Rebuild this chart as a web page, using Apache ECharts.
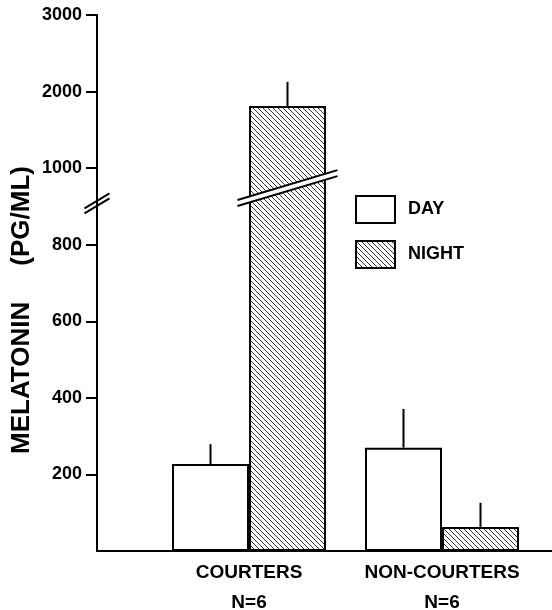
<!DOCTYPE html>
<html>
<head>
<meta charset="utf-8">
<script src="https://cdn.jsdelivr.net/npm/echarts@6/dist/echarts.min.js"></script>
<style>html,body{margin:0;padding:0;background:#fff}#c{width:552px;height:610px}</style>
</head>
<body>
<div id="c"></div>
<script>
// ---- data ----
const categories = ['COURTERS', 'NON-COURTERS'];
const groupN = ['N=6', 'N=6'];
const dayMean = [227, 270];
const dayErr = [52, 101];
const nightMean = [1810, 63];
const nightErr = [317, 63];
const tickLabels = ['', '200', '400', '600', '800', '1000', '2000', '3000'];
const seriesNames = ['DAY', 'NIGHT'];

// broken axis: 0-800 step 200 per unit, 1000-3000 step 1000 per unit
function toAxis(v) { return v <= 900 ? v / 200 : 5 + (v - 1000) / 1000; }

const FONT = "'Liberation Sans', Arial, Helvetica, sans-serif";
const BAR_W = 77;

// hatch pattern
const pc = document.createElement('canvas');
pc.width = 5; pc.height = 5;
const g = pc.getContext('2d');
g.fillStyle = '#fff'; g.fillRect(0, 0, 5, 5);
g.fillStyle = '#333';
for (let i = 0; i < 5; i++) g.fillRect(i, i, 1, 1);
const hatch = { image: pc, repeat: 'repeat' };

const chart = echarts.init(document.getElementById('c'));

const errData = [];
categories.forEach((c, i) => {
  errData.push([i, toAxis(dayMean[i]), toAxis(dayMean[i] + dayErr[i]), -1]);
  errData.push([i, toAxis(nightMean[i]), toAxis(nightMean[i] + nightErr[i]), 1]);
});

const option = {
  animation: false,
  backgroundColor: '#fff',
  grid: [
    { left: 97, right: 0, top: 15, bottom: 59, containLabel: false, outerBoundsMode: 'none' },
    { left: 152.5, right: 13.5, top: 15, bottom: 59, containLabel: false, outerBoundsMode: 'none' }
  ],
  legend: {
    data: seriesNames,
    orient: 'vertical',
    left: 350, top: 190,
    itemWidth: 39, itemHeight: 27, itemGap: 16,
    icon: 'rect',
    textStyle: { fontFamily: FONT, fontSize: 18, fontWeight: 'bold', color: '#000', padding: [0, 0, 0, 8] }
  },
  xAxis: [
    { gridIndex: 0, type: 'category', data: [''],
      axisLine: { lineStyle: { color: '#000', width: 2 } },
      axisTick: { show: false }, axisLabel: { show: false } },
    { gridIndex: 1, type: 'category', data: categories,
      axisLine: { show: false }, axisTick: { show: false },
      axisLabel: {
        interval: 0, hideOverlap: false,
        formatter: (v, i) => v + '\n' + groupN[i],
        fontFamily: FONT, fontSize: 19, fontWeight: 'bold', color: '#000',
        lineHeight: 30, margin: 7
      } }
  ],
  yAxis: [
    { gridIndex: 0, type: 'value', min: 0, max: 7, interval: 1,
      axisLine: { show: true, lineStyle: { color: '#000', width: 2 } },
      axisTick: { show: true, length: 11, lineStyle: { color: '#000', width: 2 }, customValues: [1, 2, 3, 4, 5, 6, 7] },
      axisLabel: { customValues: [1, 2, 3, 4, 5, 6, 7], formatter: v => tickLabels[v],
        fontFamily: FONT, fontSize: 18, fontWeight: 'bold', color: '#000', margin: 15 },
      splitLine: { show: false } },
    { gridIndex: 1, type: 'value', min: 0, max: 7, interval: 1, show: false, splitLine: { show: false } }
  ],
  series: [
    { name: 'DAY', type: 'bar', xAxisIndex: 1, yAxisIndex: 1,
      data: dayMean.map(toAxis), barWidth: BAR_W, barGap: '0%',
      itemStyle: { color: '#fff', borderColor: '#000', borderWidth: 2 } },
    { name: 'NIGHT', type: 'bar', xAxisIndex: 1, yAxisIndex: 1,
      data: nightMean.map(toAxis), barWidth: BAR_W, barGap: '0%',
      itemStyle: { color: hatch, borderColor: '#000', borderWidth: 2 } },
    { type: 'custom', xAxisIndex: 1, yAxisIndex: 1, data: errData, z: 5,
      renderItem: (params, api) => {
        const p0 = api.coord([api.value(0), api.value(1)]);
        const p1 = api.coord([api.value(0), api.value(2)]);
        const off = api.value(3) * BAR_W / 2;
        return { type: 'line', shape: { x1: p0[0] + off, y1: p0[1], x2: p1[0] + off, y2: p1[1] },
          style: { stroke: '#000', lineWidth: 2 } };
      } }
  ]
};
chart.setOption(option);

// break symbols (decoration) positioned through the axes
const axisBreakPos = 4.54;
const barBreakPos = 4.74;
const pa = chart.convertToPixel({ xAxisIndex: 0, yAxisIndex: 0 }, [0, axisBreakPos]);
const ax = 97, ay = pa[1];
const pb = chart.convertToPixel({ xAxisIndex: 1, yAxisIndex: 1 }, [0, barBreakPos]);
const bx = pb[0] + BAR_W / 2, by = pb[1];
const bh = 50, bs = -0.298, sep = 6;
const axh = 12.5, as = -0.6;
chart.setOption({
  graphic: [
    { type: 'polygon', z: 100, shape: { points: [
        [bx - bh, by - bh * bs - sep / 2], [bx + bh, by + bh * bs - sep / 2],
        [bx + bh, by + bh * bs + sep / 2], [bx - bh, by - bh * bs + sep / 2]] },
      style: { fill: '#fff' } },
    { type: 'line', z: 101, shape: { x1: bx - bh, y1: by - bh * bs - sep / 2, x2: bx + bh, y2: by + bh * bs - sep / 2 },
      style: { stroke: '#000', lineWidth: 2 } },
    { type: 'line', z: 101, shape: { x1: bx - bh, y1: by - bh * bs + sep / 2, x2: bx + bh, y2: by + bh * bs + sep / 2 },
      style: { stroke: '#000', lineWidth: 2 } },
    { type: 'line', z: 101, shape: { x1: ax - axh, y1: ay - axh * as - 2.5, x2: ax + axh, y2: ay + axh * as - 2.5 },
      style: { stroke: '#000', lineWidth: 2 } },
    { type: 'line', z: 101, shape: { x1: ax - axh, y1: ay - axh * as + 2.5, x2: ax + axh, y2: ay + axh * as + 2.5 },
      style: { stroke: '#000', lineWidth: 2 } },
    { type: 'text', z: 101, x: 22, y: 310, rotation: Math.PI / 2,
      style: { text: 'MELATONIN     (PG/ML)', font: "bold 26px 'Liberation Sans', Arial, sans-serif",
        fill: '#000', align: 'center', verticalAlign: 'middle' } }
  ]
});
</script>
</body>
</html>
